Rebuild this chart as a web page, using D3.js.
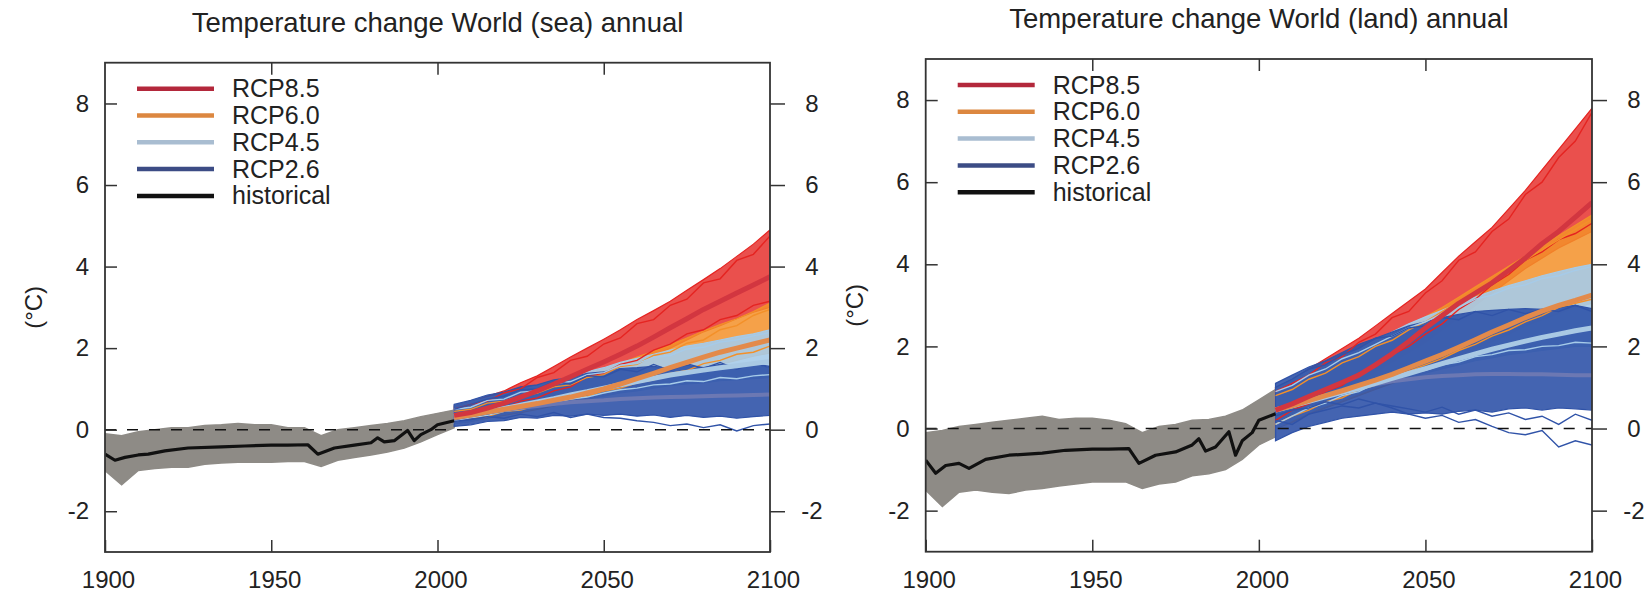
<!DOCTYPE html>
<html>
<head>
<meta charset="utf-8">
<script src="https://cdn.jsdelivr.net/npm/d3@7"></script>
<style>
  body { margin: 0; background: #fff; }
  text { font-family: "Liberation Sans", Arial, sans-serif; fill: #222; }
</style>
</head>
<body>
<svg id="chart" width="1651" height="593"></svg>
<script>
// titles, legend names and ticks
var titles = ["Temperature change World (sea) annual", "Temperature change World (land) annual"];
var legendNames = ["RCP8.5", "RCP6.0", "RCP4.5", "RCP2.6", "historical"];
var xTicks = [1900, 1950, 2000, 2050, 2100];
var xInnerTicks = [1950, 2000, 2050];
var yTicks = [-2, 0, 2, 4, 6, 8];

// years
var histYears = [1900,1905,1910,1915,1920,1925,1930,1935,1940,1945,1950,1955,1960,1965,1970,1975,1980,1985,1990,1995,2000,2005];
var histMeanYears = [1900,1903,1906,1910,1913,1918,1925,1935,1942,1950,1955,1961,1964,1969,1975,1980,1982,1984,1987,1991,1993,1995,1998,2000,2005];
var futYears = [2005,2010,2015,2020,2025,2030,2035,2040,2045,2050,2055,2060,2065,2070,2075,2080,2085,2090,2095,2100];

// ---- sea ----
var seaHistLow  = [-1.0,-1.35,-1.0,-0.95,-0.92,-0.92,-0.85,-0.82,-0.8,-0.8,-0.8,-0.78,-0.78,-0.9,-0.75,-0.68,-0.62,-0.55,-0.45,-0.3,-0.12,0.05];
var seaHistHigh = [-0.1,-0.15,-0.05,0.0,0.05,0.05,0.1,0.12,0.15,0.12,0.12,0.05,0.05,-0.15,0.0,0.05,0.1,0.15,0.22,0.32,0.4,0.48];
var seaHistMean = [-0.6,-0.75,-0.68,-0.62,-0.6,-0.52,-0.45,-0.42,-0.4,-0.38,-0.38,-0.37,-0.6,-0.45,-0.38,-0.32,-0.2,-0.3,-0.27,-0.02,-0.27,-0.12,0.0,0.12,0.22];

var sea85Low  = [0.2,0.28,0.38,0.45,0.58,0.7,0.85,1.0,1.15,1.3,1.48,1.65,1.82,2.0,2.2,2.4,2.55,2.72,2.88,3.0];
var sea85High = [0.58,0.68,0.82,0.95,1.15,1.32,1.55,1.78,2.0,2.22,2.45,2.7,2.92,3.15,3.42,3.68,3.95,4.25,4.55,4.9];
var sea85Mean = [0.35,0.42,0.53,0.65,0.8,0.95,1.12,1.3,1.48,1.66,1.85,2.05,2.27,2.5,2.72,2.95,3.15,3.35,3.55,3.75];
var sea85A = [0.5,0.62,0.7,0.9,1.0,1.28,1.4,1.7,1.8,2.1,2.25,2.6,2.7,3.05,3.2,3.6,3.7,4.15,4.3,4.75];
var sea85B = [0.3,0.35,0.5,0.52,0.7,0.78,0.95,1.05,1.3,1.38,1.6,1.7,1.95,2.1,2.35,2.45,2.7,2.8,3.05,3.15];

var sea60Low  = [0.15,0.2,0.28,0.35,0.42,0.5,0.58,0.66,0.75,0.85,0.95,1.05,1.15,1.28,1.4,1.5,1.6,1.7,1.8,1.88];
var sea60High = [0.55,0.62,0.72,0.8,0.9,1.0,1.1,1.22,1.35,1.48,1.62,1.78,1.92,2.08,2.25,2.42,2.58,2.72,2.9,3.1];
var sea60Mean = [0.3,0.36,0.43,0.5,0.57,0.64,0.72,0.8,0.9,1.0,1.12,1.25,1.38,1.52,1.65,1.78,1.9,2.0,2.1,2.2];
var sea60A = [0.45,0.5,0.65,0.7,0.82,0.9,1.05,1.1,1.28,1.35,1.55,1.6,1.82,1.9,2.12,2.2,2.45,2.55,2.8,2.95];
var sea60B = [0.2,0.3,0.32,0.45,0.48,0.6,0.65,0.75,0.82,0.95,1.02,1.15,1.22,1.38,1.45,1.62,1.7,1.85,1.9,2.05];

var sea45Low  = [0.15,0.2,0.3,0.38,0.45,0.52,0.6,0.68,0.75,0.82,0.9,0.95,1.02,1.08,1.12,1.15,1.2,1.22,1.25,1.28];
var sea45High = [0.58,0.68,0.78,0.88,0.98,1.08,1.2,1.3,1.42,1.52,1.65,1.75,1.85,1.95,2.05,2.12,2.2,2.28,2.35,2.45];
var sea45Mean = [0.32,0.38,0.45,0.52,0.6,0.68,0.76,0.85,0.93,1.02,1.1,1.18,1.26,1.34,1.4,1.46,1.52,1.57,1.62,1.67];
var sea45A = [0.5,0.55,0.72,0.75,0.92,0.95,1.12,1.18,1.35,1.4,1.58,1.62,1.78,1.82,1.98,2.02,2.15,2.2,2.3,2.38];
var sea45B = [0.2,0.3,0.35,0.45,0.5,0.6,0.65,0.75,0.8,0.9,0.98,1.02,1.1,1.12,1.2,1.18,1.28,1.25,1.32,1.35];

var sea26Low  = [0.08,0.12,0.2,0.22,0.3,0.28,0.35,0.33,0.38,0.35,0.38,0.33,0.36,0.3,0.35,0.3,0.33,0.28,0.32,0.35];
var sea26High = [0.62,0.72,0.85,0.92,1.05,1.1,1.22,1.28,1.38,1.42,1.5,1.52,1.55,1.5,1.58,1.52,1.6,1.55,1.62,1.52];
var sea26Mean = [0.28,0.35,0.42,0.48,0.54,0.58,0.63,0.67,0.7,0.72,0.75,0.77,0.79,0.8,0.81,0.82,0.83,0.84,0.85,0.86];
var sea26A = [0.2,0.25,0.32,0.28,0.38,0.32,0.42,0.3,0.38,0.3,0.28,0.22,0.18,0.1,0.14,0.05,0.12,-0.03,0.1,0.14];
var sea26B = [0.5,0.62,0.75,0.82,0.98,1.0,1.18,1.12,1.32,1.3,1.48,1.42,1.6,1.45,1.62,1.5,1.65,1.48,1.62,1.55];

// ---- land ----
var landHistLow  = [-1.5,-1.9,-1.55,-1.5,-1.55,-1.58,-1.5,-1.46,-1.4,-1.35,-1.3,-1.3,-1.3,-1.46,-1.35,-1.3,-1.15,-1.1,-1.0,-0.75,-0.4,-0.2];
var landHistHigh = [-0.1,-0.05,0.05,0.1,0.15,0.2,0.25,0.3,0.22,0.25,0.25,0.2,0.12,-0.1,0.05,0.1,0.2,0.22,0.3,0.45,0.7,0.95];
var landHistMean = [-0.77,-1.09,-0.9,-0.85,-0.97,-0.75,-0.65,-0.6,-0.53,-0.5,-0.5,-0.49,-0.85,-0.65,-0.57,-0.4,-0.25,-0.55,-0.45,-0.08,-0.65,-0.3,-0.1,0.2,0.36];

var land85Low  = [0.0,0.25,0.5,0.72,0.95,1.15,1.38,1.62,1.85,2.1,2.4,2.7,3.0,3.3,3.6,3.9,4.15,4.4,4.6,4.8];
var land85High = [1.0,1.2,1.45,1.7,1.95,2.2,2.5,2.8,3.1,3.4,3.8,4.2,4.55,4.9,5.35,5.8,6.3,6.8,7.3,7.8];
var land85Mean = [0.45,0.6,0.78,0.95,1.12,1.3,1.55,1.82,2.12,2.45,2.75,3.05,3.3,3.55,3.85,4.15,4.5,4.8,5.15,5.5];
var land85A = [0.9,1.1,1.3,1.6,1.75,2.1,2.3,2.7,2.85,3.3,3.6,4.1,4.3,4.8,5.1,5.7,6.0,6.6,7.0,7.7];
var land85B = [0.2,0.45,0.6,0.9,1.05,1.35,1.5,1.8,2.0,2.3,2.55,2.9,3.15,3.5,3.75,4.1,4.3,4.6,4.75,5.0];

var land60Low  = [0.0,0.15,0.35,0.5,0.65,0.8,0.95,1.1,1.25,1.4,1.58,1.75,1.95,2.12,2.3,2.5,2.65,2.8,2.95,3.05];
var land60High = [1.0,1.15,1.35,1.52,1.7,1.9,2.1,2.3,2.5,2.72,2.95,3.2,3.45,3.7,3.95,4.2,4.45,4.7,4.95,5.2];
var land60Mean = [0.45,0.55,0.68,0.8,0.92,1.05,1.18,1.32,1.48,1.64,1.8,1.98,2.16,2.35,2.52,2.7,2.86,3.0,3.12,3.25];
var land60A = [0.8,0.95,1.2,1.35,1.6,1.75,2.0,2.15,2.4,2.6,2.85,3.1,3.35,3.6,3.85,4.1,4.35,4.6,4.85,5.1];
var land60B = [0.1,0.3,0.45,0.65,0.75,0.95,1.05,1.25,1.4,1.55,1.7,1.9,2.05,2.25,2.4,2.6,2.75,2.95,3.05,3.15];

var land45Low  = [0.0,0.2,0.4,0.55,0.7,0.85,1.0,1.12,1.25,1.35,1.45,1.55,1.65,1.72,1.8,1.85,1.9,1.95,2.0,2.0];
var land45High = [1.0,1.2,1.4,1.6,1.78,1.95,2.15,2.35,2.55,2.72,2.88,3.05,3.2,3.35,3.48,3.6,3.72,3.82,3.92,4.0];
var land45Mean = [0.45,0.55,0.66,0.77,0.88,0.98,1.1,1.22,1.34,1.46,1.58,1.7,1.82,1.93,2.03,2.13,2.22,2.3,2.38,2.45];
var land45A = [0.9,1.05,1.3,1.45,1.7,1.85,2.05,2.25,2.45,2.6,2.8,2.95,3.15,3.25,3.42,3.5,3.65,3.72,3.85,3.95];
var land45B = [0.1,0.3,0.5,0.62,0.8,0.9,1.1,1.18,1.35,1.42,1.55,1.62,1.75,1.8,1.9,1.92,2.0,2.02,2.1,2.08];

var land26Low  = [-0.3,-0.1,0.05,0.15,0.25,0.3,0.35,0.4,0.35,0.38,0.35,0.42,0.45,0.4,0.48,0.5,0.45,0.5,0.48,0.45];
var land26High = [1.1,1.3,1.5,1.65,1.85,2.05,2.2,2.35,2.5,2.6,2.7,2.78,2.85,2.88,2.9,2.92,2.9,2.95,3.0,2.92];
var land26Mean = [0.45,0.55,0.68,0.8,0.9,1.0,1.08,1.15,1.2,1.25,1.28,1.3,1.32,1.33,1.33,1.32,1.32,1.31,1.3,1.3];
var land26A = [0.2,0.1,0.35,0.45,0.55,0.5,0.62,0.5,0.35,0.25,0.32,0.15,0.22,0.05,-0.1,-0.15,-0.05,-0.45,-0.3,-0.4];
var land26B = [0.3,0.45,0.5,0.65,0.58,0.72,0.62,0.55,0.48,0.4,0.52,0.35,0.45,0.3,0.38,0.22,0.3,0.1,0.35,0.2];
var land26C = [1.0,1.2,1.45,1.55,1.8,1.95,2.2,2.25,2.45,2.5,2.7,2.65,2.85,2.75,2.9,2.8,2.9,2.85,3.0,2.85];

// colours: ensemble members, multi-model means, legend keys
var memberColor = ["#e52421", "#f39029", "#a6cbe9", "#3053a8"];
var bandOpacity = [0.8, 0.85, 0.9, 0.9];
var meanColor   = ["#d23640", "#e38a4a", "#a9c9e4", "#6c78b3"];
var legendColor = ["#b3283b", "#dc8740", "#a9bdd1", "#3c4c85", "#111111"];
var histColor = "#8e8b86";

var panels = [
  { title: titles[0], left: 105, right: 770, top: 62.7, bottom: 552,
    histLow: seaHistLow, histHigh: seaHistHigh, histMean: seaHistMean,
    scen: [
      { lo: sea85Low, hi: sea85High, mean: sea85Mean, members: [sea85A, sea85B] },
      { lo: sea60Low, hi: sea60High, mean: sea60Mean, members: [sea60A, sea60B] },
      { lo: sea45Low, hi: sea45High, mean: sea45Mean, members: [sea45A, sea45B] },
      { lo: sea26Low, hi: sea26High, mean: sea26Mean, members: [sea26A, sea26B] }
    ] },
  { title: titles[1], left: 925.7, right: 1592, top: 59, bottom: 551.7,
    histLow: landHistLow, histHigh: landHistHigh, histMean: landHistMean,
    scen: [
      { lo: land85Low, hi: land85High, mean: land85Mean, members: [land85A, land85B] },
      { lo: land60Low, hi: land60High, mean: land60Mean, members: [land60A, land60B] },
      { lo: land45Low, hi: land45High, mean: land45Mean, members: [land45A, land45B] },
      { lo: land26Low, hi: land26High, mean: land26Mean, members: [land26A, land26B, land26C] }
    ] }
];

var svg = d3.select("#chart");

function zip(years, vals) {
  return years.map(function(yr, i) { return { year: yr, v: vals[i] }; });
}
function zipBand(years, lo, hi) {
  return years.map(function(yr, i) { return { year: yr, lo: lo[i], hi: hi[i] }; });
}

panels.forEach(function(p, pi) {
  var x = d3.scaleLinear().domain([1900, 2100]).range([p.left, p.right]);
  var y = d3.scaleLinear().domain([-3, 9]).range([p.bottom, p.top]);

  var line = d3.line()
    .x(function(d) { return x(d.year); })
    .y(function(d) { return y(d.v); });
  var area = d3.area()
    .x(function(d) { return x(d.year); })
    .y0(function(d) { return y(d.lo); })
    .y1(function(d) { return y(d.hi); });

  svg.append("clipPath").attr("id", "clip" + pi)
    .append("rect")
      .attr("x", p.left).attr("y", p.top)
      .attr("width", p.right - p.left).attr("height", p.bottom - p.top);

  var plot = svg.append("g").attr("clip-path", "url(#clip" + pi + ")");

  // historical ensemble spread
  plot.append("path")
    .attr("d", area(zipBand(histYears, p.histLow, p.histHigh)))
    .attr("fill", histColor)
    .attr("stroke", histColor)
    .attr("stroke-width", 1.5);

  // scenario ensemble spreads
  p.scen.forEach(function(s, i) {
    plot.append("path")
      .attr("d", area(zipBand(futYears, s.lo, s.hi)))
      .attr("fill", memberColor[i])
      .attr("fill-opacity", bandOpacity[i])
      .attr("stroke", memberColor[i])
      .attr("stroke-width", 1.2);
  });

  // a few single members
  p.scen.forEach(function(s, i) {
    plot.selectAll(null)
      .data(s.members)
      .enter()
      .append("path")
        .attr("d", function(m) { return line(zip(futYears, m)); })
        .attr("fill", "none")
        .attr("stroke", memberColor[i])
        .attr("stroke-width", 1.4);
  });

  // zero line
  plot.append("line")
    .attr("x1", x(1900)).attr("x2", x(2100))
    .attr("y1", y(0)).attr("y2", y(0))
    .attr("stroke", "#111")
    .attr("stroke-width", 1.6)
    .attr("stroke-dasharray", "11,11");

  // multi-model means
  [3, 2, 1, 0].forEach(function(i) {
    plot.append("path")
      .attr("d", line(zip(futYears, p.scen[i].mean)))
      .attr("fill", "none")
      .attr("stroke", meanColor[i])
      .attr("stroke-width", i == 3 ? 4 : 5)
      .attr("stroke-linejoin", "round");
  });

  plot.append("path")
    .attr("d", line(zip(histMeanYears, p.histMean)))
    .attr("fill", "none")
    .attr("stroke", "#111")
    .attr("stroke-width", 3.2)
    .attr("stroke-linejoin", "round");

  // axes
  function styleAxis(g) {
    g.select(".domain").remove();
    g.selectAll("line").attr("stroke", "#333").attr("stroke-width", 1.5);
    g.selectAll("text").attr("font-size", 24).attr("font-family", "Liberation Sans, Arial, sans-serif").attr("fill", "#222");
  }
  var plain = function(d) { return String(d); };

  svg.append("g")
    .attr("transform", "translate(" + p.left + ",0)")
    .call(d3.axisLeft(y).tickValues(yTicks).tickFormat(plain).tickSize(-12).tickPadding(16))
    .call(styleAxis);

  svg.append("g")
    .attr("transform", "translate(" + p.right + ",0)")
    .call(d3.axisRight(y).tickValues(yTicks).tickFormat(plain).tickSize(15).tickPadding(20))
    .call(styleAxis)
    .call(function(g) { g.selectAll("text").attr("text-anchor", "middle").attr("x", 42); });

  svg.append("g")
    .attr("transform", "translate(0," + p.bottom + ")")
    .call(d3.axisBottom(x).tickValues(xTicks).tickFormat(plain).tickSize(-12).tickPadding(19))
    .call(styleAxis)
    .call(function(g) { g.selectAll("text").attr("dx", 3); });

  svg.append("g")
    .attr("transform", "translate(0," + p.top + ")")
    .call(d3.axisTop(x).tickValues(xInnerTicks).tickSize(-12).tickFormat(""))
    .call(styleAxis);

  // frame
  svg.append("rect")
    .attr("x", p.left).attr("y", p.top)
    .attr("width", p.right - p.left).attr("height", p.bottom - p.top)
    .attr("fill", "none")
    .attr("stroke", "#333")
    .attr("stroke-width", 1.8);

  // title and y label
  svg.append("text")
    .attr("x", (p.left + p.right) / 2)
    .attr("y", p.top - 31)
    .attr("text-anchor", "middle")
    .style("font-size", "27.5px")
    .text(p.title);

  svg.append("text")
    .attr("transform", "translate(" + (p.left - 71) + "," + ((p.top + p.bottom) / 2) + ") rotate(-90)")
    .attr("text-anchor", "middle")
    .attr("dy", "0.35em")
    .style("font-size", "24px")
    .text("(°C)");

  // legend
  var leg = svg.append("g");
  legendNames.forEach(function(name, i) {
    var ly = p.top + 26 + i * 26.8;
    leg.append("line")
      .attr("x1", p.left + 32).attr("x2", p.left + 109)
      .attr("y1", ly).attr("y2", ly)
      .attr("stroke", legendColor[i])
      .attr("stroke-width", 4.5);
    leg.append("text")
      .attr("x", p.left + 127)
      .attr("y", ly + 8.5)
      .style("font-size", "25px")
      .text(name);
  });
});
</script>
</body>
</html>
